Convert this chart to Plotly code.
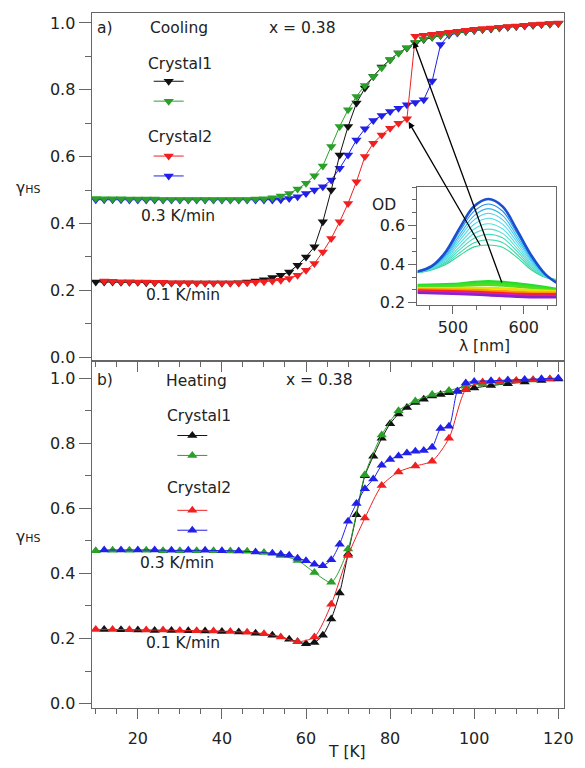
import plotly.graph_objects as go

# ---------------- DATA ----------------
# Cooling (panel a), T grid 10..120 K step 2
T_cool = list(range(10, 121, 2))
cool_black = [0.225,0.225,0.225,0.224,0.224,0.224,0.223,0.223,0.223,0.222,
              0.222,0.222,0.222,0.222,0.222,0.222,0.222,0.223,0.225,0.228,
              0.232,0.238,0.245,0.255,0.275,0.300,0.330,0.405,0.500,0.605,
              0.690,0.760,0.805,0.840,0.868,0.890,0.910,0.925,0.940,0.950,
              0.957,0.962,0.967,0.971,0.975,0.978,0.981,0.983,0.986,0.988,
              0.990,0.992,0.994,0.996,0.997,0.999]
cool_green = [0.475,0.474,0.474,0.474,0.473,0.473,0.473,0.473,0.472,0.472,
              0.472,0.472,0.472,0.472,0.472,0.472,0.472,0.472,0.472,0.473,
              0.474,0.477,0.482,0.490,0.503,0.520,0.543,0.572,0.630,0.690,
              0.740,0.780,0.813,0.840,0.866,0.890,0.910,0.926,0.942,0.952,
              0.958,0.963,0.967,0.971,0.975,0.978,0.981,0.983,0.986,0.988,
              0.990,0.992,0.994,0.996,0.997,0.999]
cool_red = [None,0.228,0.227,0.226,0.226,0.225,0.225,0.224,0.224,0.223,
            0.223,0.223,0.222,0.222,0.222,0.222,0.222,0.222,0.223,0.224,
            0.226,0.228,0.230,0.235,0.245,0.260,0.280,0.315,0.355,0.405,
            0.460,0.525,0.600,0.640,0.665,0.685,0.700,0.713,0.960,0.963,
            0.966,0.969,0.972,0.975,0.978,0.981,0.983,0.985,0.987,0.989,
            0.991,0.993,0.995,0.997,0.998,1.000]
cool_blue = [0.471,0.471,0.471,0.471,0.470,0.470,0.470,0.470,0.470,0.470,
             0.470,0.470,0.470,0.470,0.470,0.470,0.470,0.470,0.470,0.470,
             0.470,0.470,0.471,0.475,0.480,0.490,0.500,0.510,0.530,0.565,
             0.605,0.650,0.683,0.708,0.723,0.735,0.745,0.755,0.762,0.770,
             0.826,0.935,0.964,0.970,0.974,0.977,0.980,0.982,0.985,0.987,
             0.989,0.991,0.993,0.995,0.997,0.998]

# Heating (panel b)
T_heat_black = [12,16,20,24,28,32,36,40,44,48,52,56,
                58,60,62,64,66,68,70,72,74,76,78,80,82,84,86,88,90,92,94,96,98,100,
                104,108,112,116,120]
heat_black = [0.228,0.227,0.226,0.225,0.225,0.224,0.223,0.222,0.220,0.216,0.210,0.198,
              0.190,0.184,0.188,0.210,0.260,0.340,0.460,0.580,0.700,0.760,0.815,0.860,
              0.890,0.910,0.925,0.935,0.945,0.950,0.955,0.960,0.965,0.970,
              0.977,0.983,0.988,0.993,0.997]
T_heat_green = list(range(10, 119, 4))
heat_green = [0.470,0.471,0.471,0.471,0.470,0.470,0.470,0.470,0.469,0.468,
              0.464,0.455,0.440,0.403,0.373,0.475,0.703,0.825,0.900,0.930,
              0.950,0.962,0.975,0.982,0.987,0.991,0.994,0.997]
T_heat_red = list(range(10, 119, 4))
heat_red = [0.228,0.228,0.227,0.226,0.226,0.225,0.224,0.223,0.222,0.219,
            0.215,0.205,0.190,0.205,0.305,0.455,0.570,0.670,0.712,0.730,
            0.745,0.815,0.965,0.988,0.991,0.993,0.995,0.997]
T_heat_blue = [12,16,20,24,28,32,36,40,44,48,52,
               54,56,58,60,62,64,66,68,70,72,74,76,78,80,82,84,86,88,90,92,94,96,98,100,
               104,108,112,116,120]
heat_blue = [0.472,0.472,0.472,0.472,0.471,0.471,0.471,0.470,0.469,0.466,0.462,
             0.459,0.456,0.447,0.439,0.428,0.424,0.442,0.490,0.560,0.615,0.660,0.690,
             0.732,0.750,0.761,0.770,0.775,0.778,0.788,0.845,0.852,0.960,0.985,0.990,
             0.992,0.994,0.996,0.998,1.000]

# Inset spectra (OD vs wavelength)
lam_hs = [450,470,490,510,530,550,570,590,610,630,646]
spec_hs = [
    [0.362,0.390,0.465,0.590,0.700,0.738,0.700,0.580,0.450,0.350,0.305],
    [0.360,0.387,0.455,0.572,0.675,0.712,0.676,0.563,0.440,0.347,0.306],
    [0.360,0.385,0.447,0.555,0.652,0.688,0.653,0.548,0.432,0.345,0.308],
    [0.359,0.383,0.440,0.540,0.630,0.664,0.631,0.533,0.424,0.343,0.310],
    [0.359,0.381,0.433,0.525,0.607,0.638,0.608,0.517,0.416,0.341,0.312],
    [0.358,0.379,0.426,0.509,0.583,0.610,0.584,0.501,0.407,0.339,0.314],
    [0.358,0.377,0.419,0.493,0.559,0.582,0.560,0.485,0.399,0.338,0.316],
    [0.357,0.375,0.412,0.477,0.535,0.555,0.537,0.469,0.390,0.336,0.318],
    [0.357,0.373,0.405,0.461,0.511,0.527,0.513,0.453,0.381,0.334,0.320],
    [0.356,0.371,0.399,0.447,0.490,0.500,0.488,0.437,0.373,0.333,0.322],
]
hs_colors = ['#1a4fcf','#1e90e8','#33b5ee','#48cdee','#55d8ec',
             '#58dde2','#52ddd0','#48dbbd','#3fd8aa','#36d498']
lam_ls = [450,500,550,600,646]
spec_ls = [
    [0.292,0.297,0.312,0.296,0.272],
    [0.287,0.292,0.303,0.288,0.268],
    [0.282,0.286,0.294,0.281,0.264],
    [0.276,0.276,0.277,0.268,0.260],
    [0.270,0.268,0.264,0.255,0.252],
    [0.264,0.260,0.254,0.245,0.244],
    [0.257,0.252,0.246,0.237,0.235],
    [0.252,0.247,0.240,0.231,0.229],
]
ls_colors = ['#22dd22','#33e033','#55dd22','#e8e000','#ff9900','#ff2222','#cc22cc','#8822cc']

# ---------------- FIGURE ----------------
W, H = 585, 768
def X(p): return p / W
def Y(p): return 1 - p / H

FONT = "DejaVu Sans"
TXT = '#222222'
AX = '#666666'
C_BLACK, C_GREEN, C_RED, C_BLUE = '#111111', '#2aa02a', '#f02020', '#2020e8'

fig = go.Figure()

# inset spectra
for i in range(len(spec_hs) - 1, -1, -1):
    fig.add_trace(go.Scatter(x=lam_hs, y=spec_hs[i], mode='lines', xaxis='x3', yaxis='y3',
                             line=dict(color=hs_colors[i], width=2.6 if i == 0 else 1.1,
                                       shape='spline', smoothing=1.0),
                             showlegend=False, hoverinfo='skip'))
for i in range(len(spec_ls)):
    fig.add_trace(go.Scatter(x=lam_ls, y=spec_ls[i], mode='lines', xaxis='x3', yaxis='y3',
                             line=dict(color=ls_colors[i], width=2.6, shape='spline', smoothing=1.0),
                             showlegend=False, hoverinfo='skip'))

def series(x, y, color, sym, xa, ya, grp, rank, legend, shape='linear'):
    fig.add_trace(go.Scatter(
        x=x, y=y, mode='lines+markers', xaxis=xa, yaxis=ya, name='',
        line=dict(color=color, width=1, shape=shape, smoothing=0.7),
        marker=dict(symbol=sym, size=9, color=color, line=dict(width=0)),
        legendgroup=grp, legendrank=rank, legend=legend, connectgaps=False))

# Cooling (draw order: blue, black, green, red)
series(T_cool, cool_blue, C_BLUE, 'triangle-down', 'x', 'y', 'Crystal2', 4, 'legend')
series(T_cool, cool_black, C_BLACK, 'triangle-down', 'x', 'y', 'Crystal1', 1, 'legend')
series(T_cool, cool_green, C_GREEN, 'triangle-down', 'x', 'y', 'Crystal1', 2, 'legend')
series(T_cool, cool_red, C_RED, 'triangle-down', 'x', 'y', 'Crystal2', 3, 'legend')

# Heating
series(T_heat_black, heat_black, C_BLACK, 'triangle-up', 'x2', 'y2', 'Crystal1', 1, 'legend2', 'spline')
series(T_heat_green, heat_green, C_GREEN, 'triangle-up', 'x2', 'y2', 'Crystal1', 2, 'legend2', 'spline')
series(T_heat_red, heat_red, C_RED, 'triangle-up', 'x2', 'y2', 'Crystal2', 3, 'legend2', 'spline')
series(T_heat_blue, heat_blue, C_BLUE, 'triangle-up', 'x2', 'y2', 'Crystal2', 4, 'legend2', 'spline')

tickfont = dict(family=FONT, size=16, color=TXT)
common_x = dict(range=[9.0, 121.4], dtick=20, tick0=0, ticks='outside', ticklen=10, tickwidth=1,
                tickcolor=AX, showline=True, linecolor=AX, linewidth=1, mirror=True,
                showgrid=False, zeroline=False, tickfont=tickfont,
                minor=dict(dtick=5, tick0=0, ticks='outside', ticklen=5, tickcolor=AX))
common_y = dict(dtick=0.2, tick0=0, tickformat='.1f', ticks='outside', ticklen=12, tickwidth=1,
                tickcolor=AX, showline=True, linecolor=AX, linewidth=1, mirror=True,
                showgrid=False, zeroline=False, tickfont=tickfont,
                minor=dict(dtick=0.1, tick0=0, ticks='outside', ticklen=6, tickcolor=AX))

legend_common = dict(bgcolor='rgba(0,0,0,0)', font=dict(family=FONT, size=13, color=TXT),
                     tracegroupgap=35, itemwidth=30, xanchor='left', yanchor='top',
                     traceorder='grouped', itemclick=False)

fig.update_layout(
    width=W, height=H, margin=dict(l=0, r=0, t=0, b=0), autosize=False,
    paper_bgcolor='white', plot_bgcolor='white', showlegend=True,
    xaxis=dict(domain=[X(93), X(573)], anchor='y', showticklabels=False, **common_x),
    yaxis=dict(domain=[Y(365), Y(13)], anchor='x', range=[-0.012, 1.03], **common_y),
    xaxis2=dict(domain=[X(93), X(573)], anchor='y2', showticklabels=True,
                ticklabelstandoff=6, **common_x),
    yaxis2=dict(domain=[Y(715), Y(365)], anchor='x2', range=[-0.012, 1.052], **common_y),
    xaxis3=dict(domain=[X(424), X(565)], anchor='y3', range=[450, 646], tickvals=[500, 600],
                ticks='outside', ticklen=8, tickcolor=AX, showline=True, linecolor=AX, mirror=True,
                showgrid=False, zeroline=False, tickfont=tickfont,
                minor=dict(tick0=500, dtick=100/3, ticks='outside', ticklen=4, tickcolor=AX)),
    yaxis3=dict(domain=[Y(308), Y(189)], anchor='x3', range=[0.19, 0.8], tickvals=[0.2, 0.4, 0.6],
                ticktext=['0.2', '0.4', '0.6'], ticks='outside', ticklen=8, tickcolor=AX,
                showline=True, linecolor=AX, mirror=True, showgrid=False, zeroline=False,
                tickfont=tickfont,
                minor=dict(tick0=0.2, dtick=0.2/3, ticks='outside', ticklen=4, tickcolor=AX)),
    legend=dict(x=X(151), y=Y(67), **legend_common),
    legend2=dict(x=X(175), y=Y(425), **legend_common),
)

def txt(x, y, s, size=15.5, anchor='center'):
    fig.add_annotation(x=X(x), y=Y(y), xref='paper', yref='paper', text=s, showarrow=False,
                       xanchor=anchor, yanchor='middle', font=dict(family=FONT, size=size, color=TXT))

gam = "γ<span style='font-size:11px'>HS</span>"
txt(107, 28, "a)"); txt(182, 28, "Cooling"); txt(307, 28, "x = 0.38")
txt(183, 65, "Crystal1"); txt(183, 138, "Crystal2")
txt(181, 218, "0.3 K/min"); txt(186, 298, "0.1 K/min"); txt(28, 190, gam)
txt(107, 384, "b)"); txt(200, 385, "Heating"); txt(324, 384, "x = 0.38")
txt(202, 420, "Crystal1"); txt(202, 493, "Crystal2")
txt(180, 569, "0.3 K/min"); txt(186, 650, "0.1 K/min"); txt(28, 543, gam)
txt(352, 760, "T [K]")
txt(390, 207, "OD"); txt(492, 350, "λ [nm]")

# arrows from data points to the spectra
for (tx, ty, sx, sy) in [(84.4, 0.704, 101.6, 0.331), (85.6, 0.944, 106.7, 0.219)]:
    fig.add_annotation(x=tx, y=ty, xref='x', yref='y', ax=sx, ay=sy, axref='x', ayref='y',
                       text='', showarrow=True, arrowhead=2, arrowsize=1, arrowwidth=1.3,
                       arrowcolor='black')

fig.write_html("out.html")
